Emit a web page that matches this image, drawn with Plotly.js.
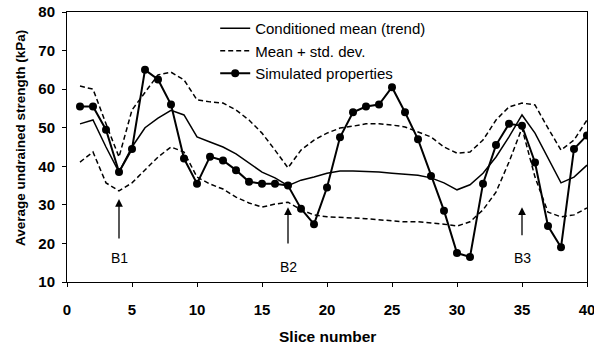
<!DOCTYPE html>
<html><head><meta charset="utf-8">
<script src="https://cdn.plot.ly/plotly-3.0.1.min.js"></script>
<style>html,body{margin:0;padding:0;background:#fff}#chart{width:594px;height:345px}</style>
</head><body><div id="chart"></div>
<script>
const slices = [1,2,3,4,5,6,7,8,9,10,11,12,13,14,15,16,17,18,19,20,21,22,23,24,25,26,27,28,29,30,31,32,33,34,35,36,37,38,39,40];
const condMean = [51,52,45,38.5,45,50,52.5,54.5,53.3,47.6,46.3,45,43.2,40.8,38.5,37,35,36.4,37.2,38.2,38.8,38.8,38.7,38.5,38.2,38,37.7,37,35.7,33.9,35.2,38.2,42.4,47.6,53.3,48.6,42,35.7,37.2,40.3];
const meanPlusStd = [60.8,60,51,42.4,54.6,59.3,63.7,64.4,62.4,57.2,56.7,56.4,54.6,52,48.6,44.2,39.6,44.2,46.8,48.6,49.9,50.4,51,51,50.7,50.2,48.9,47.6,45,43.4,43.7,46.8,52,55.4,56.4,55.9,49.9,44.2,46.8,52];
const meanMinusStd = [41.1,43.7,35.7,33.6,35.7,39,42.4,45,43.7,37.2,35.4,34.1,32,30.5,29.4,30.2,30.7,28.7,27.4,26.9,26.8,26.6,26.4,26.1,25.9,25.6,25.6,25.3,25,24.5,25.6,28.7,33.3,41.1,49.9,37.2,28.1,26.9,27.4,29.2];
const simulated = [55.5,55.5,49.5,38.5,44.5,65,62.5,56,42,35.5,42.5,41.5,39,36,35.5,35.5,35,29,25,34.5,47.5,54,55.5,56,60.5,54,47,37.5,28.5,17.5,16.5,35.5,45.5,51,50.5,41,24.5,19,44.5,48];
const boreholes = ['B1','B2','B3'];
const boreholeX = [4,17,35];
const arrowTip = [31.5,29.4,29.4];
const arrowTail = [20.9,19.6,21.7];
const labelY = [16.2,13.9,16.2];
const xTicks = [0,5,10,15,20,25,30,35,40];
const yTicks = [10,20,30,40,50,60,70,80];
const xTitle = 'Slice number';
const yTitle = 'Average undrained strength (kPa)';

const F = 'Liberation Sans, Arial, sans-serif';
const traces = [
  {x:slices, y:condMean, mode:'lines', name:'Conditioned mean (trend)', line:{color:'#000', width:1.5}},
  {x:slices, y:meanPlusStd, mode:'lines', name:'Mean + std. dev.', line:{color:'#000', width:1.5, dash:'5px,3px'}, legendgroup:'sd'},
  {x:slices, y:meanMinusStd, mode:'lines', name:'Mean - std. dev.', showlegend:false, line:{color:'#000', width:1.5, dash:'5px,3px'}, legendgroup:'sd'},
  {x:slices, y:simulated, mode:'lines+markers', name:'Simulated properties', line:{color:'#000', width:2}, marker:{color:'#000', size:8}}
];
const annotations = [];
boreholes.forEach((b,i)=>{
  annotations.push({x:boreholeX[i], y:arrowTip[i], ax:boreholeX[i], ay:arrowTail[i], xref:'x', yref:'y', axref:'x', ayref:'y', text:'', showarrow:true, arrowhead:2, arrowsize:1.2, arrowwidth:1.3, arrowcolor:'#000'});
  annotations.push({x:boreholeX[i], y:labelY[i], xref:'x', yref:'y', text:b, showarrow:false, font:{family:F, size:14, color:'#000'}});
});
annotations.push({xref:'paper', yref:'paper', x:0.5, y:-0.2, text:xTitle, showarrow:false, xanchor:'center', yanchor:'middle', font:{family:F, size:15.5, weight:'bold', color:'#000'}});
annotations.push({xref:'paper', yref:'paper', x:-0.0904, y:0.533, text:yTitle, textangle:-90, showarrow:false, xanchor:'center', yanchor:'middle', font:{family:F, size:13.5, weight:'bold', color:'#000'}});
const layout = {
  width:594, height:345,
  margin:{l:67, r:7, t:12, b:63},
  paper_bgcolor:'#fff', plot_bgcolor:'#fff',
  showlegend:true,
  legend:{x:0.285, y:1.0, xanchor:'left', yanchor:'top', bgcolor:'rgba(0,0,0,0)', font:{family:F, size:15, color:'#000'}, tracegroupgap:0},
  xaxis:{range:[0,40], tickvals:xTicks, ticks:'outside', ticklen:4, tickcolor:'#000', showline:true, linecolor:'#000', linewidth:1, mirror:true, showgrid:false, zeroline:false,
    ticklabeloverflow:'allow', ticklabelstandoff:10,
    tickfont:{family:F, size:15, weight:'bold', color:'#000'}},
  yaxis:{range:[10,80], tickvals:yTicks, ticks:'outside', ticklen:4, tickcolor:'#000', showline:true, linecolor:'#000', linewidth:1, mirror:true, showgrid:false, zeroline:false,
    ticklabelstandoff:4,
    tickfont:{family:F, size:15, weight:'bold', color:'#000'}},
  annotations:annotations
};
Plotly.newPlot('chart', traces, layout, {displayModeBar:false, staticPlot:true});
</script></body></html>
